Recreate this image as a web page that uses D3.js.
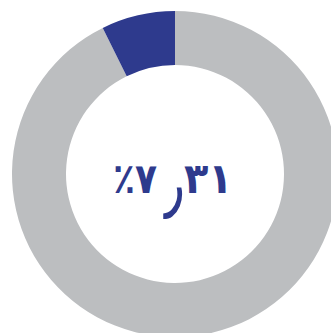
<!DOCTYPE html>
<html>
<head>
<meta charset="utf-8">
<script src="https://cdn.jsdelivr.net/npm/d3@7"></script>
<style>
  html, body { margin: 0; padding: 0; background: #ffffff; }
  svg { display: block; }
</style>
</head>
<body>
<svg id="chart" width="331" height="333"></svg>
<script>
// Share shown in the donut (percent) and the remainder
const categories = ["rest", "share"];
const values = [92.69, 7.31];
const colors = ["#bcbec0", "#2e3a8d"];
// Center label pieces, in visual order: percent sign + integer, decimal separator, fraction
const labelParts = ["٪۷", "٫", "۳۱"];

const svg = d3.select("#chart");
const cx = 175, cy = 174;
const outerR = 163, innerR = 109;

const pie = d3.pie().sort(null).value(d => d);
const arc = d3.arc().innerRadius(innerR).outerRadius(outerR);
const color = d3.scaleOrdinal().domain(categories).range(colors);

const g = svg.append("g").attr("transform", `translate(${cx},${cy})`);

g.selectAll("path")
  .data(pie(values))
  .join("path")
  .attr("d", arc)
  .attr("fill", (d, i) => color(categories[i]));

// Label: three pieces laid out left to right around the center
const pieces = [
  { text: labelParts[0], x: -18, y: 19, sx: 0.86, anchor: "end", size: 42, weight: "bold" },
  { text: labelParts[1], x: -1.5, y: 37, sx: 0.85, anchor: "middle", size: 74, weight: "normal" },
  { text: labelParts[2], x: 9, y: 19, sx: 0.95, anchor: "start", size: 42, weight: "bold" }
];

g.selectAll("text.label")
  .data(pieces)
  .join("text")
  .attr("class", "label")
  .attr("transform", d => `translate(${d.x},${d.y}) scale(${d.sx},1)`)
  .attr("text-anchor", d => d.anchor)
  .attr("fill", colors[1])
  .style("font-family", "'DejaVu Sans', sans-serif")
  .style("font-weight", d => d.weight)
  .style("font-size", d => d.size + "px")
  .style("direction", "ltr")
  .style("unicode-bidi", "bidi-override")
  .text(d => d.text);
</script>
</body>
</html>
